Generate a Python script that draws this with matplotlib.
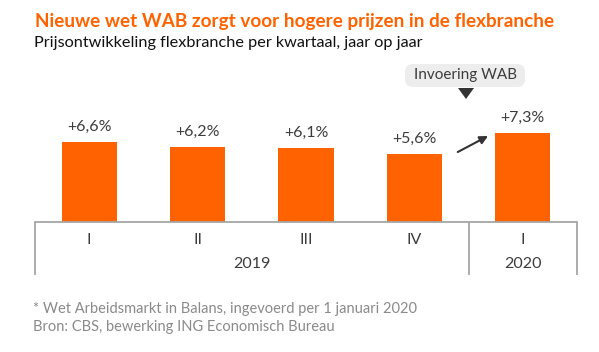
import matplotlib
matplotlib.use("Agg")
import matplotlib.pyplot as plt
from matplotlib.patches import FancyBboxPatch, Polygon

plt.rcParams['font.family'] = ['Lato', 'DejaVu Sans']

# data
kwartalen = ['I', 'II', 'III', 'IV', 'I']
jaren = ['2019', '2020']
jaar_posities = [1.5, 4]
waarden = [6.6, 6.2, 6.1, 5.6, 7.3]
labels = ['+6,6%', '+6,2%', '+6,1%', '+5,6%', '+7,3%']

oranje = '#FF6200'
grijs = '#A6A6A6'
tekst = '#3C3C3C'

fig = plt.figure(figsize=(5.99, 3.52), dpi=100)
ax = fig.add_axes([35 / 599, 130 / 352, 542 / 599, 162 / 352])

x = list(range(len(waarden)))
ax.bar(x, waarden, width=0.51, color=oranje)
for xi, v, lab in zip(x, waarden, labels):
    ax.annotate(lab, (xi, v), xytext=(0, 8), textcoords='offset points',
                ha='center', va='baseline', fontsize=11.5, color=tekst)

ax.set_xlim(-0.5, 4.5)
ax.set_ylim(0, 162 / 12.15)
for s in ax.spines.values():
    s.set_visible(False)
ax.set_yticks([])
ax.set_xticks(x, kwartalen)
ax.tick_params(axis='x', length=0, pad=8, labelsize=11.5, labelcolor=tekst)

# kader onder de grafiek
xt = ax.get_xaxis_transform()
ax.plot([-0.5, 4.5], [0, 0], color=grijs, lw=1.3, transform=xt, clip_on=False)
ax.vlines([-0.5, 3.5, 4.5], -0.33, 0, color=grijs, lw=1.3, transform=xt, clip_on=False)
for jx, j in zip(jaar_posities, jaren):
    ax.text(jx, -0.26, j, transform=xt, ha='center', va='center', fontsize=11.5, color=tekst)

# annotatie WAB
inch = fig.dpi_scale_trans
fig.add_artist(FancyBboxPatch((4.05, 3.52 - 0.87), 1.2, 0.23, transform=inch,
                              boxstyle='round,pad=0,rounding_size=0.08',
                              fc='#EDEDED', ec='none'))
fig.text(4.65 / 5.99, 1 - 75.5 / 352, 'Invoering WAB', ha='center', va='center',
         fontsize=11, color=tekst)
fig.add_artist(Polygon([(4.58, 3.52 - 0.88), (4.74, 3.52 - 0.88), (4.66, 3.52 - 0.99)],
                       closed=True, transform=inch, fc='#333333', ec='none'))
ax.annotate('', xy=(3.68, 7.08), xytext=(3.40, 5.76),
            arrowprops=dict(arrowstyle='-|>', color='#333333', lw=1.5,
                            mutation_scale=12, shrinkA=0, shrinkB=0))

fig.text(35 / 599, 1 - 27 / 352, 'Nieuwe wet WAB zorgt voor hogere prijzen in de flexbranche',
         ha='left', va='baseline', fontsize=13.6, fontweight='bold', color=oranje)
fig.text(34 / 599, 1 - 47 / 352, 'Prijsontwikkeling flexbranche per kwartaal, jaar op jaar',
         ha='left', va='baseline', fontsize=11.7, color='#111111')
fig.text(33 / 599, 1 - 313 / 352, '* Wet Arbeidsmarkt in Balans, ingevoerd per 1 januari 2020',
         ha='left', va='baseline', fontsize=10.5, color='#8A8A8A')
fig.text(33 / 599, 1 - 331 / 352, 'Bron: CBS, bewerking ING Economisch Bureau',
         ha='left', va='baseline', fontsize=10.5, color='#8A8A8A')

fig.savefig('out.png', dpi=100)
